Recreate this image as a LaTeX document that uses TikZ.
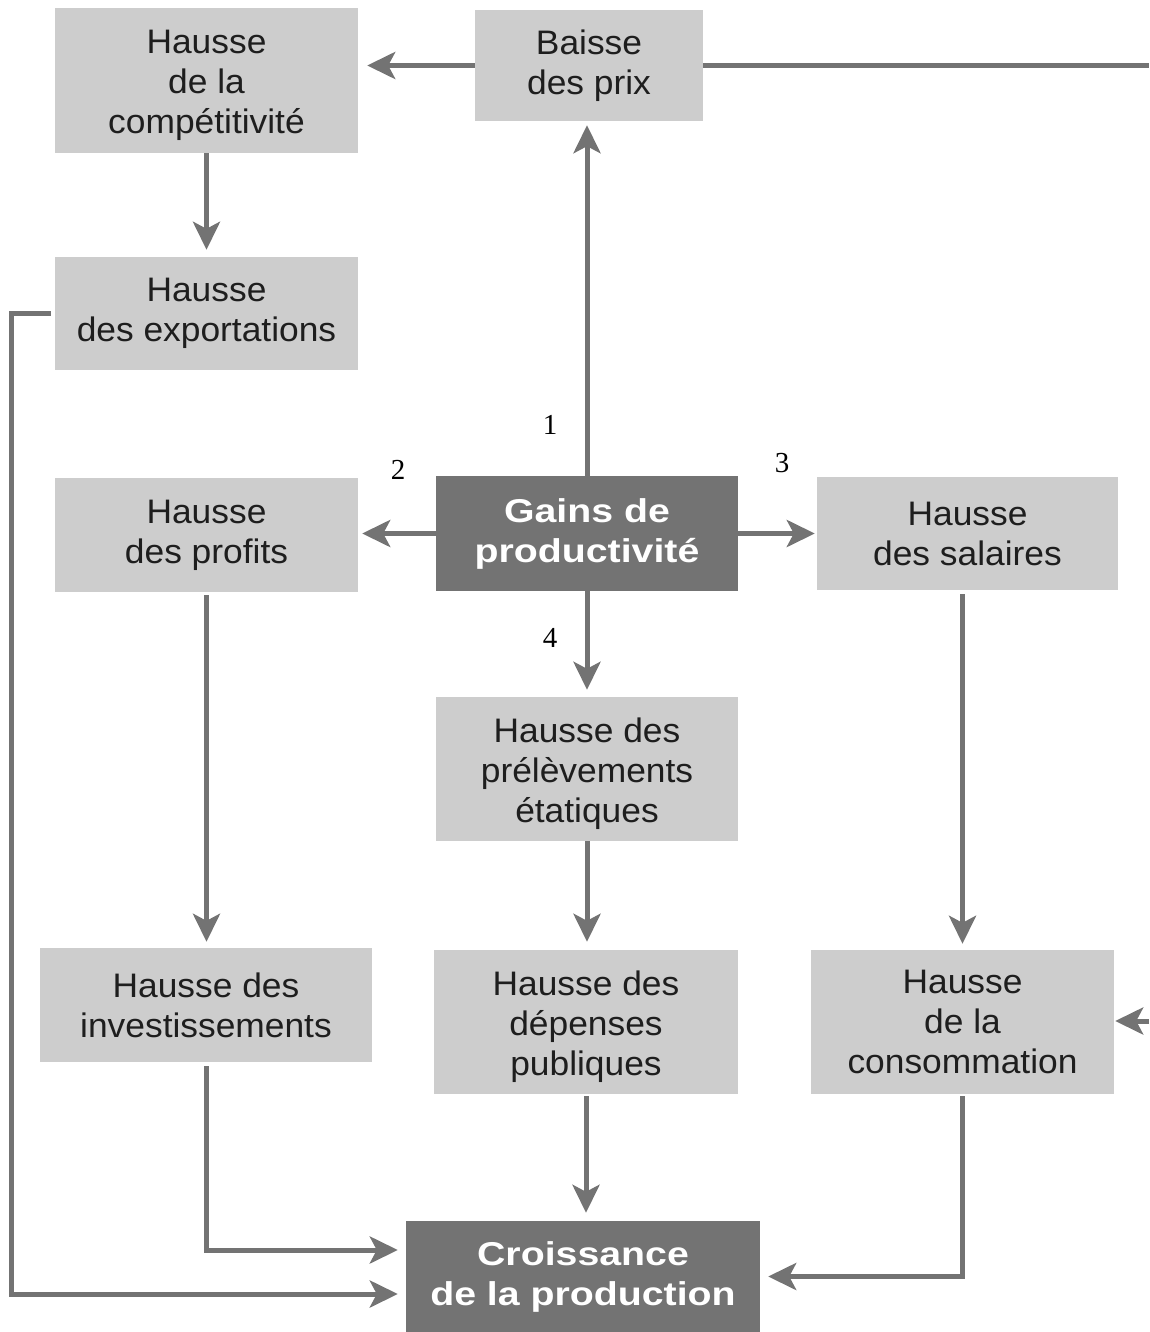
\documentclass[tikz,border=0pt]{standalone}
\usepackage{fontspec}
\setmainfont{Liberation Sans}[FakeStretch=1.04]
\newfontfamily\heavyfont{Liberation Sans}[FakeStretch=1.19,BoldFeatures={FakeStretch=1.19}]
\newfontfamily\numfont{Liberation Serif}
\usetikzlibrary{arrows.meta,calc}
\definecolor{boxlight}{RGB}{205,205,205}
\definecolor{boxdark}{RGB}{115,115,115}
\definecolor{arrgray}{RGB}{115,115,115}
\definecolor{txt}{RGB}{30,30,30}
\newcommand{\topstrut}{\rule{0pt}{34pt}}
\tikzset{
  lbox/.style={fill=boxlight, draw=none, align=center, inner sep=0pt, text=txt,
    font=\fontsize{34}{40}\selectfont},
  dbox/.style={fill=boxdark, draw=none, align=center, inner sep=0pt, text=white,
    font=\heavyfont\bfseries\fontsize{33}{40}\selectfont},
  conn/.style={draw=arrgray, line width=5pt},
  arr/.style={conn, -{Stealth[length=28pt,width=27pt,inset=7pt]}},
  num/.style={font=\numfont\fontsize{29}{34}\selectfont, text=black, inner sep=0pt}
}
\begin{document}
\begin{tikzpicture}[x=1pt,y=-1pt]
\useasboundingbox (0,0) rectangle (1149,1332);
% boxes
\node[lbox, minimum width=303pt, minimum height=145pt] (compet) at (206.5,80.5) {\topstrut Hausse\\de la\\compétitivité};
\node[lbox, minimum width=228pt, minimum height=111pt] (baisse) at (589,65.5) {Baisse\\des prix};
\node[lbox, minimum width=303pt, minimum height=113pt] (exports) at (206.5,313.5) {Hausse\\des exportations};
\node[lbox, minimum width=303pt, minimum height=114pt] (profits) at (206.5,535) {Hausse\\des profits};
\node[dbox, minimum width=302pt, minimum height=115pt] (gains) at (587,533.5) {Gains de\\productivité};
\node[lbox, minimum width=301pt, minimum height=113pt] (salaires) at (967.5,533.5) {Hausse\\des salaires};
\node[lbox, minimum width=302pt, minimum height=144pt] (prel) at (587,769) {\topstrut Hausse des\\prélèvements\\étatiques};
\node[lbox, minimum width=332pt, minimum height=114pt] (invest) at (206,1005) {Hausse des\\investissements};
\node[lbox, minimum width=304pt, minimum height=144pt] (depenses) at (586,1022) {\topstrut Hausse des\\dépenses\\publiques};
\node[lbox, minimum width=303pt, minimum height=144pt] (conso) at (962.5,1022) {Hausse\\de la\\consommation};
\node[dbox, minimum width=354pt, minimum height=111pt] (croissance) at (583,1276.5) {Croissance\\de la production};
% free ends
\coordinate (rout) at (1149,65.5);
\coordinate (rin) at (1149,1021);
% numbers
\node[num] (n1) at (550,425) {1};
\node[num] (n2) at (398,470) {2};
\node[num] (n3) at (782,463) {3};
\node[num] (n4) at (550,638) {4};
% connectors
\draw[arr, shorten >=9pt] (baisse.west) -- (baisse.west -| compet.east);
\draw[conn] (baisse.east) -- (rout);
\draw[arr, shorten >=7pt] (compet.south) -- (exports.north);
\draw[arr, shorten >=8pt, shorten <=4pt] (exports.west) -- ++(-43,0) |- ([yshift=-17.5pt]croissance.west);
\draw[arr, shorten >=4pt] (gains.north) -- (gains.north |- baisse.south);
\draw[arr, shorten >=4pt] (gains.west) -- (gains.west -| profits.east);
\draw[arr, shorten >=2pt] (gains.east) -- (gains.east -| salaires.west);
\draw[arr, shorten >=7pt] (gains.south) -- (prel.north);
\draw[arr, shorten >=8pt] (prel.south) -- (prel.south |- depenses.north);
\draw[arr, shorten >=6pt, shorten <=3pt] (profits.south) -- (profits.south |- invest.north);
\draw[arr, shorten >=6pt, shorten <=4pt] (conso.north |- salaires.south) -- (conso.north);
\draw[arr, shorten >=8pt, shorten <=4pt] (invest.south) |- ([yshift=26.5pt]croissance.west);
\draw[arr, shorten >=8pt, shorten <=2pt] (depenses.south) -- (depenses.south |- croissance.north);
\draw[arr, shorten >=8pt, shorten <=2pt] (conso.south) |- (croissance.east);
\draw[arr, shorten >=1pt] (rin) -- (rin -| conso.east);
\end{tikzpicture}
\end{document}
